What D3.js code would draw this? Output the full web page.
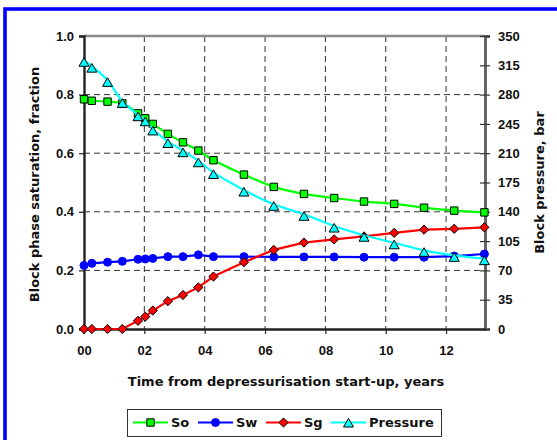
<!DOCTYPE html>
<html>
<head>
<meta charset="utf-8">
<script src="https://cdn.jsdelivr.net/npm/d3@7"></script>
<style>
  html, body { margin: 0; padding: 0; background: #fff; }
  svg { display: block; font-family: "DejaVu Sans", Verdana, sans-serif; font-weight: bold; }
</style>
</head>
<body>
<svg id="chart" width="557" height="440"></svg>
<script>
// Time since depressurisation start-up, years
const years = [0, 0.26, 0.78, 1.27, 1.79, 2.03, 2.28, 2.78, 3.28, 3.79, 4.29,
               5.30, 6.29, 7.29, 8.29, 9.28, 10.28, 11.27, 12.27, 13.27];
// Block phase saturations, fraction
const so = [0.784, 0.779, 0.776, 0.770, 0.736, 0.719, 0.700, 0.666, 0.637, 0.609, 0.576,
            0.527, 0.485, 0.461, 0.447, 0.435, 0.427, 0.414, 0.404, 0.398];
const sw = [0.217, 0.224, 0.228, 0.231, 0.238, 0.239, 0.241, 0.247, 0.247, 0.253, 0.247,
            0.247, 0.246, 0.246, 0.246, 0.245, 0.245, 0.245, 0.249, 0.256];
const sg = [0, 0, 0, 0, 0.028, 0.042, 0.063, 0.095, 0.116, 0.142, 0.179,
            0.228, 0.270, 0.295, 0.306, 0.316, 0.328, 0.339, 0.342, 0.347];
// Block pressure, bar
const pressure = [321, 314, 297, 272, 256, 250, 239, 224, 213, 201, 187,
                  166, 149, 137, 123, 112, 103, 94, 88, 84];

const xTicks = [0, 2, 4, 6, 8, 10, 12];
const leftTicks = [0, 0.2, 0.4, 0.6, 0.8, 1.0];
const rightTicks = [0, 35, 70, 105, 140, 175, 210, 245, 280, 315, 350];

const svg = d3.select("#chart");
const L = 84, R = 485, T = 36, B = 329;

const x = d3.scaleLinear().domain([0, 13.29]).range([L, R]);
const yL = d3.scaleLinear().domain([0, 1]).range([B, T]);
const yR = d3.scaleLinear().domain([0, 350]).range([B, T]);

// outer frame
svg.append("rect").attr("x", 5).attr("y", 9).attr("width", 700).attr("height", 600)
  .attr("fill", "none").attr("stroke", "#0000ff").attr("stroke-width", 3.6);

// grid
const grid = svg.append("g").attr("stroke", "#333").attr("stroke-width", 1)
  .attr("stroke-dasharray", "6,4");
grid.selectAll("line.h").data(leftTicks.filter(d => d > 0 && d < 1)).join("line")
  .attr("x1", L).attr("x2", R).attr("y1", d => yL(d)).attr("y2", d => yL(d));
grid.selectAll("line.v").data(xTicks.filter(d => d > 0)).join("line")
  .attr("y1", T).attr("y2", B).attr("x1", d => x(d)).attr("x2", d => x(d));

// plot frame: top edge
svg.append("line").attr("x1", L).attr("x2", R).attr("y1", T).attr("y2", T)
  .attr("stroke", "#8c8c8c").attr("stroke-width", 2.4);

const fontSize = 13;

// left axis
const gL = svg.append("g").attr("transform", `translate(${L},0)`)
  .call(d3.axisLeft(yL).tickValues(leftTicks).tickFormat(d3.format(".1f")).tickSize(5).tickPadding(5));
gL.select(".domain").attr("stroke", "#222").attr("stroke-width", 2.4);
gL.selectAll(".tick line").attr("stroke", "#222").attr("stroke-width", 1.2);
gL.selectAll("text").attr("font-size", fontSize).attr("font-family", null).attr("fill", "#111");

// right axis (ticks cross the line)
const gR = svg.append("g").attr("transform", `translate(${R},0)`)
  .call(d3.axisRight(yR).tickValues(rightTicks).tickSize(5).tickPadding(8));
gR.selectAll(".tick line").attr("x1", -5).attr("stroke", "#333").attr("stroke-width", 1.2);
gR.select(".domain").attr("stroke", "#666").attr("stroke-width", 3);
gR.selectAll("text").attr("font-size", fontSize).attr("font-family", null).attr("fill", "#111");

// bottom axis
const gB = svg.append("g").attr("transform", `translate(0,${B})`)
  .call(d3.axisBottom(x).tickValues(xTicks).tickFormat(d3.format("02d")).tickSizeInner(5).tickSizeOuter(0).tickPadding(12));
gB.select(".domain").attr("stroke", "#222").attr("stroke-width", 2.4);
gB.selectAll(".tick line").attr("stroke", "#222").attr("stroke-width", 1.2);
gB.selectAll("text").attr("font-size", fontSize).attr("font-family", null).attr("fill", "#111");

// axis titles
svg.append("text").attr("x", 286).attr("y", 386).attr("text-anchor", "middle")
  .attr("font-size", fontSize).attr("fill", "#111")
  .text("Time from depressurisation start-up, years");
svg.append("text").attr("transform", `translate(39,${(T + B) / 2 + 2}) rotate(-90)`)
  .attr("text-anchor", "middle").attr("font-size", fontSize).attr("fill", "#111")
  .text("Block phase saturation, fraction");
svg.append("text").attr("transform", `translate(544,${(T + B) / 2}) rotate(-90)`)
  .attr("text-anchor", "middle").attr("font-size", fontSize).attr("fill", "#111")
  .text("Block pressure, bar");

// marker shapes
const squarePath = "M-3.7,-3.7H3.7V3.7H-3.7Z";
const diamondPath = "M0,-4.6L4.6,0L0,4.6L-4.6,0Z";
const trianglePath = "M0,-2.6L5,6L-5,6Z";

const series = [
  { name: "So", vals: so, scale: yL, color: "#00ff00", curve: d3.curveCatmullRom.alpha(0.5),
    marker: "path", d: squarePath, fill: "#00ff00", stroke: "#000" },
  { name: "Sw", vals: sw, scale: yL, color: "#0000ff", curve: d3.curveLinear,
    marker: "circle", r: 4, fill: "#0000ff", stroke: "#0000ff" },
  { name: "Sg", vals: sg, scale: yL, color: "#ff0000", curve: d3.curveLinear,
    marker: "path", d: diamondPath, fill: "#ff0000", stroke: "#000" },
  { name: "Pressure", vals: pressure, scale: yR, color: "#00ffff", curve: d3.curveCatmullRom.alpha(0.5),
    marker: "path", d: trianglePath, fill: "#00ffff", stroke: "#000" }
];

function drawMarker(g, s) {
  if (s.marker === "circle") {
    return g.append("circle").attr("r", s.r).attr("fill", s.fill).attr("stroke", s.stroke);
  }
  return g.append("path").attr("d", s.d).attr("fill", s.fill)
    .attr("stroke", s.stroke).attr("stroke-width", 1).attr("stroke-linejoin", "miter");
}

series.forEach(s => {
  const pts = years.map((t, i) => [t, s.vals[i]]);
  const line = d3.line().x(d => x(d[0])).y(d => s.scale(d[1])).curve(s.curve);
  const g = svg.append("g");
  g.append("path").attr("d", line(pts)).attr("fill", "none")
    .attr("stroke", s.color).attr("stroke-width", 2.2);
  pts.forEach(p => {
    drawMarker(g.append("g").attr("transform", `translate(${x(p[0])},${s.scale(p[1])})`), s);
  });
});

// legend
const lg = svg.append("g");
lg.append("rect").attr("x", 127.5).attr("y", 409.5).attr("width", 314).attr("height", 27)
  .attr("fill", "#fff").attr("stroke", "#333").attr("stroke-width", 1);
const legendX = [133, 198, 266, 331];
series.forEach((s, i) => {
  const x0 = legendX[i];
  const cy = 422.5;
  lg.append("line").attr("x1", x0).attr("x2", x0 + 35).attr("y1", cy).attr("y2", cy)
    .attr("stroke", s.color).attr("stroke-width", 2.2);
  drawMarker(lg.append("g").attr("transform", `translate(${x0 + 17.5},${cy + (s.name === "Pressure" ? -1.5 : 0)})`), s);
  lg.append("text").attr("x", x0 + 38).attr("y", cy + 4.5).attr("font-size", fontSize).attr("fill", "#111")
    .text(s.name);
});
</script>
</body>
</html>
